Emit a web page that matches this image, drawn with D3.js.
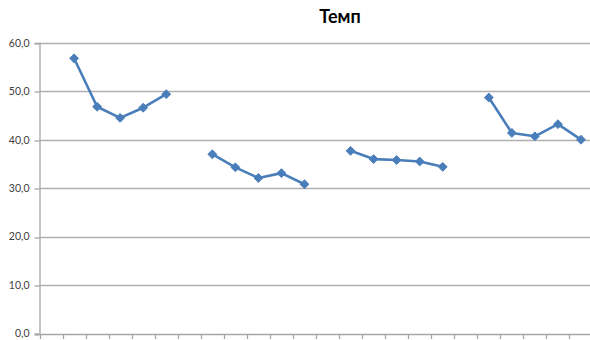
<!DOCTYPE html>
<html>
<head>
<meta charset="utf-8">
<script src="https://cdn.jsdelivr.net/npm/d3@7"></script>
<style>
  html, body { margin: 0; padding: 0; background: #fff; }
  svg { display: block; }
</style>
</head>
<body>
<svg id="chart" width="590" height="340"></svg>
<script>
// Series "Темп": four blocks of five values, each block preceded by an empty slot
const categories = d3.range(24).map(i => "c" + (i + 1));
const tempValues = [
  null, 56.8, 46.8, 44.5, 46.6, 49.4,
  null, 37.0, 34.3, 32.1, 33.1, 30.8,
  null, 37.7, 36.0, 35.8, 35.5, 34.4,
  null, 48.7, 41.4, 40.7, 43.2, 40.0
];
const yTicks = [0, 10, 20, 30, 40, 50, 60];
const yTickLabels = ["0,0", "10,0", "20,0", "30,0", "40,0", "50,0", "60,0"];
const title = "Темп";

const svg = d3.select("#chart");
const plotLeft = 39.5, plotRight = 592.5, plotTop = 42.8, plotBottom = 333.5;

const x = d3.scaleBand().domain(categories).range([plotLeft, plotRight]).padding(0);
const y = d3.scaleLinear().domain([0, 60]).range([plotBottom, plotTop]);

// Horizontal gridlines
svg.append("g")
  .selectAll("line")
  .data(yTicks.filter(t => t > 0))
  .join("line")
  .attr("x1", plotLeft).attr("x2", plotRight)
  .attr("y1", d => Math.round(y(d)) + 0.5).attr("y2", d => Math.round(y(d)) + 0.5)
  .attr("stroke", "#b0b0b0").attr("stroke-width", 1.3);

// Y axis
const yAxis = d3.axisLeft(y)
  .tickValues(yTicks)
  .tickFormat((d, i) => yTickLabels[i])
  .tickSize(5)
  .tickPadding(5);
const gy = svg.append("g")
  .attr("transform", `translate(${plotLeft},0)`)
  .call(yAxis);
gy.select(".domain").attr("stroke", "#a6a6a6").attr("stroke-width", 1.3);
gy.selectAll(".tick line").attr("stroke", "#a6a6a6").attr("stroke-width", 1.3)
  .attr("transform", d => `translate(0,${Math.round(y(d)) + 0.5 - y(d)})`);
gy.selectAll(".tick text")
  .attr("fill", "#404040")
  .style("font-family", "Lato, 'Open Sans', sans-serif")
  .style("font-size", "10.5px");

// X axis: tick marks at category boundaries, no labels
const boundaries = categories.map(c => x(c)).concat([plotRight]);
const gx = svg.append("g");
gx.append("line")
  .attr("x1", plotLeft).attr("x2", plotRight)
  .attr("y1", Math.round(plotBottom) + 0.5).attr("y2", Math.round(plotBottom) + 0.5)
  .attr("stroke", "#a6a6a6").attr("stroke-width", 1.3);
gx.selectAll("line.tick")
  .data(boundaries)
  .join("line")
  .attr("class", "tick")
  .attr("x1", d => Math.round(d) + 0.5).attr("x2", d => Math.round(d) + 0.5)
  .attr("y1", Math.round(plotBottom)).attr("y2", Math.round(plotBottom) + 5)
  .attr("stroke", "#a6a6a6").attr("stroke-width", 1.3);

// Line with gaps at empty slots
const pts = categories.map((c, i) => ({ c, v: tempValues[i] }));
const line = d3.line()
  .defined(d => d.v !== null)
  .x(d => x(d.c) + x.bandwidth() / 2)
  .y(d => y(d.v));

svg.append("path")
  .datum(pts)
  .attr("d", line)
  .attr("fill", "none")
  .attr("stroke", "#4a7ebb")
  .attr("stroke-width", 2.6)
  .attr("stroke-linejoin", "round");

// Diamond markers
const diamond = d3.symbol().type(d3.symbolDiamond2).size(50);
svg.append("g")
  .selectAll("path")
  .data(pts.filter(d => d.v !== null))
  .join("path")
  .attr("transform", d => `translate(${x(d.c) + x.bandwidth() / 2},${y(d.v)})`)
  .attr("d", diamond)
  .attr("fill", "#4a7ebb")
  .attr("stroke", "#4a7ebb")
  .attr("stroke-width", 1);

// Title
svg.append("text")
  .attr("x", 340).attr("y", 22.5)
  .attr("text-anchor", "middle")
  .attr("fill", "#000")
  .style("font-family", "Lato, 'Open Sans', sans-serif")
  .style("font-weight", "bold")
  .style("font-size", "18px")
  .text(title);
</script>
</body>
</html>
